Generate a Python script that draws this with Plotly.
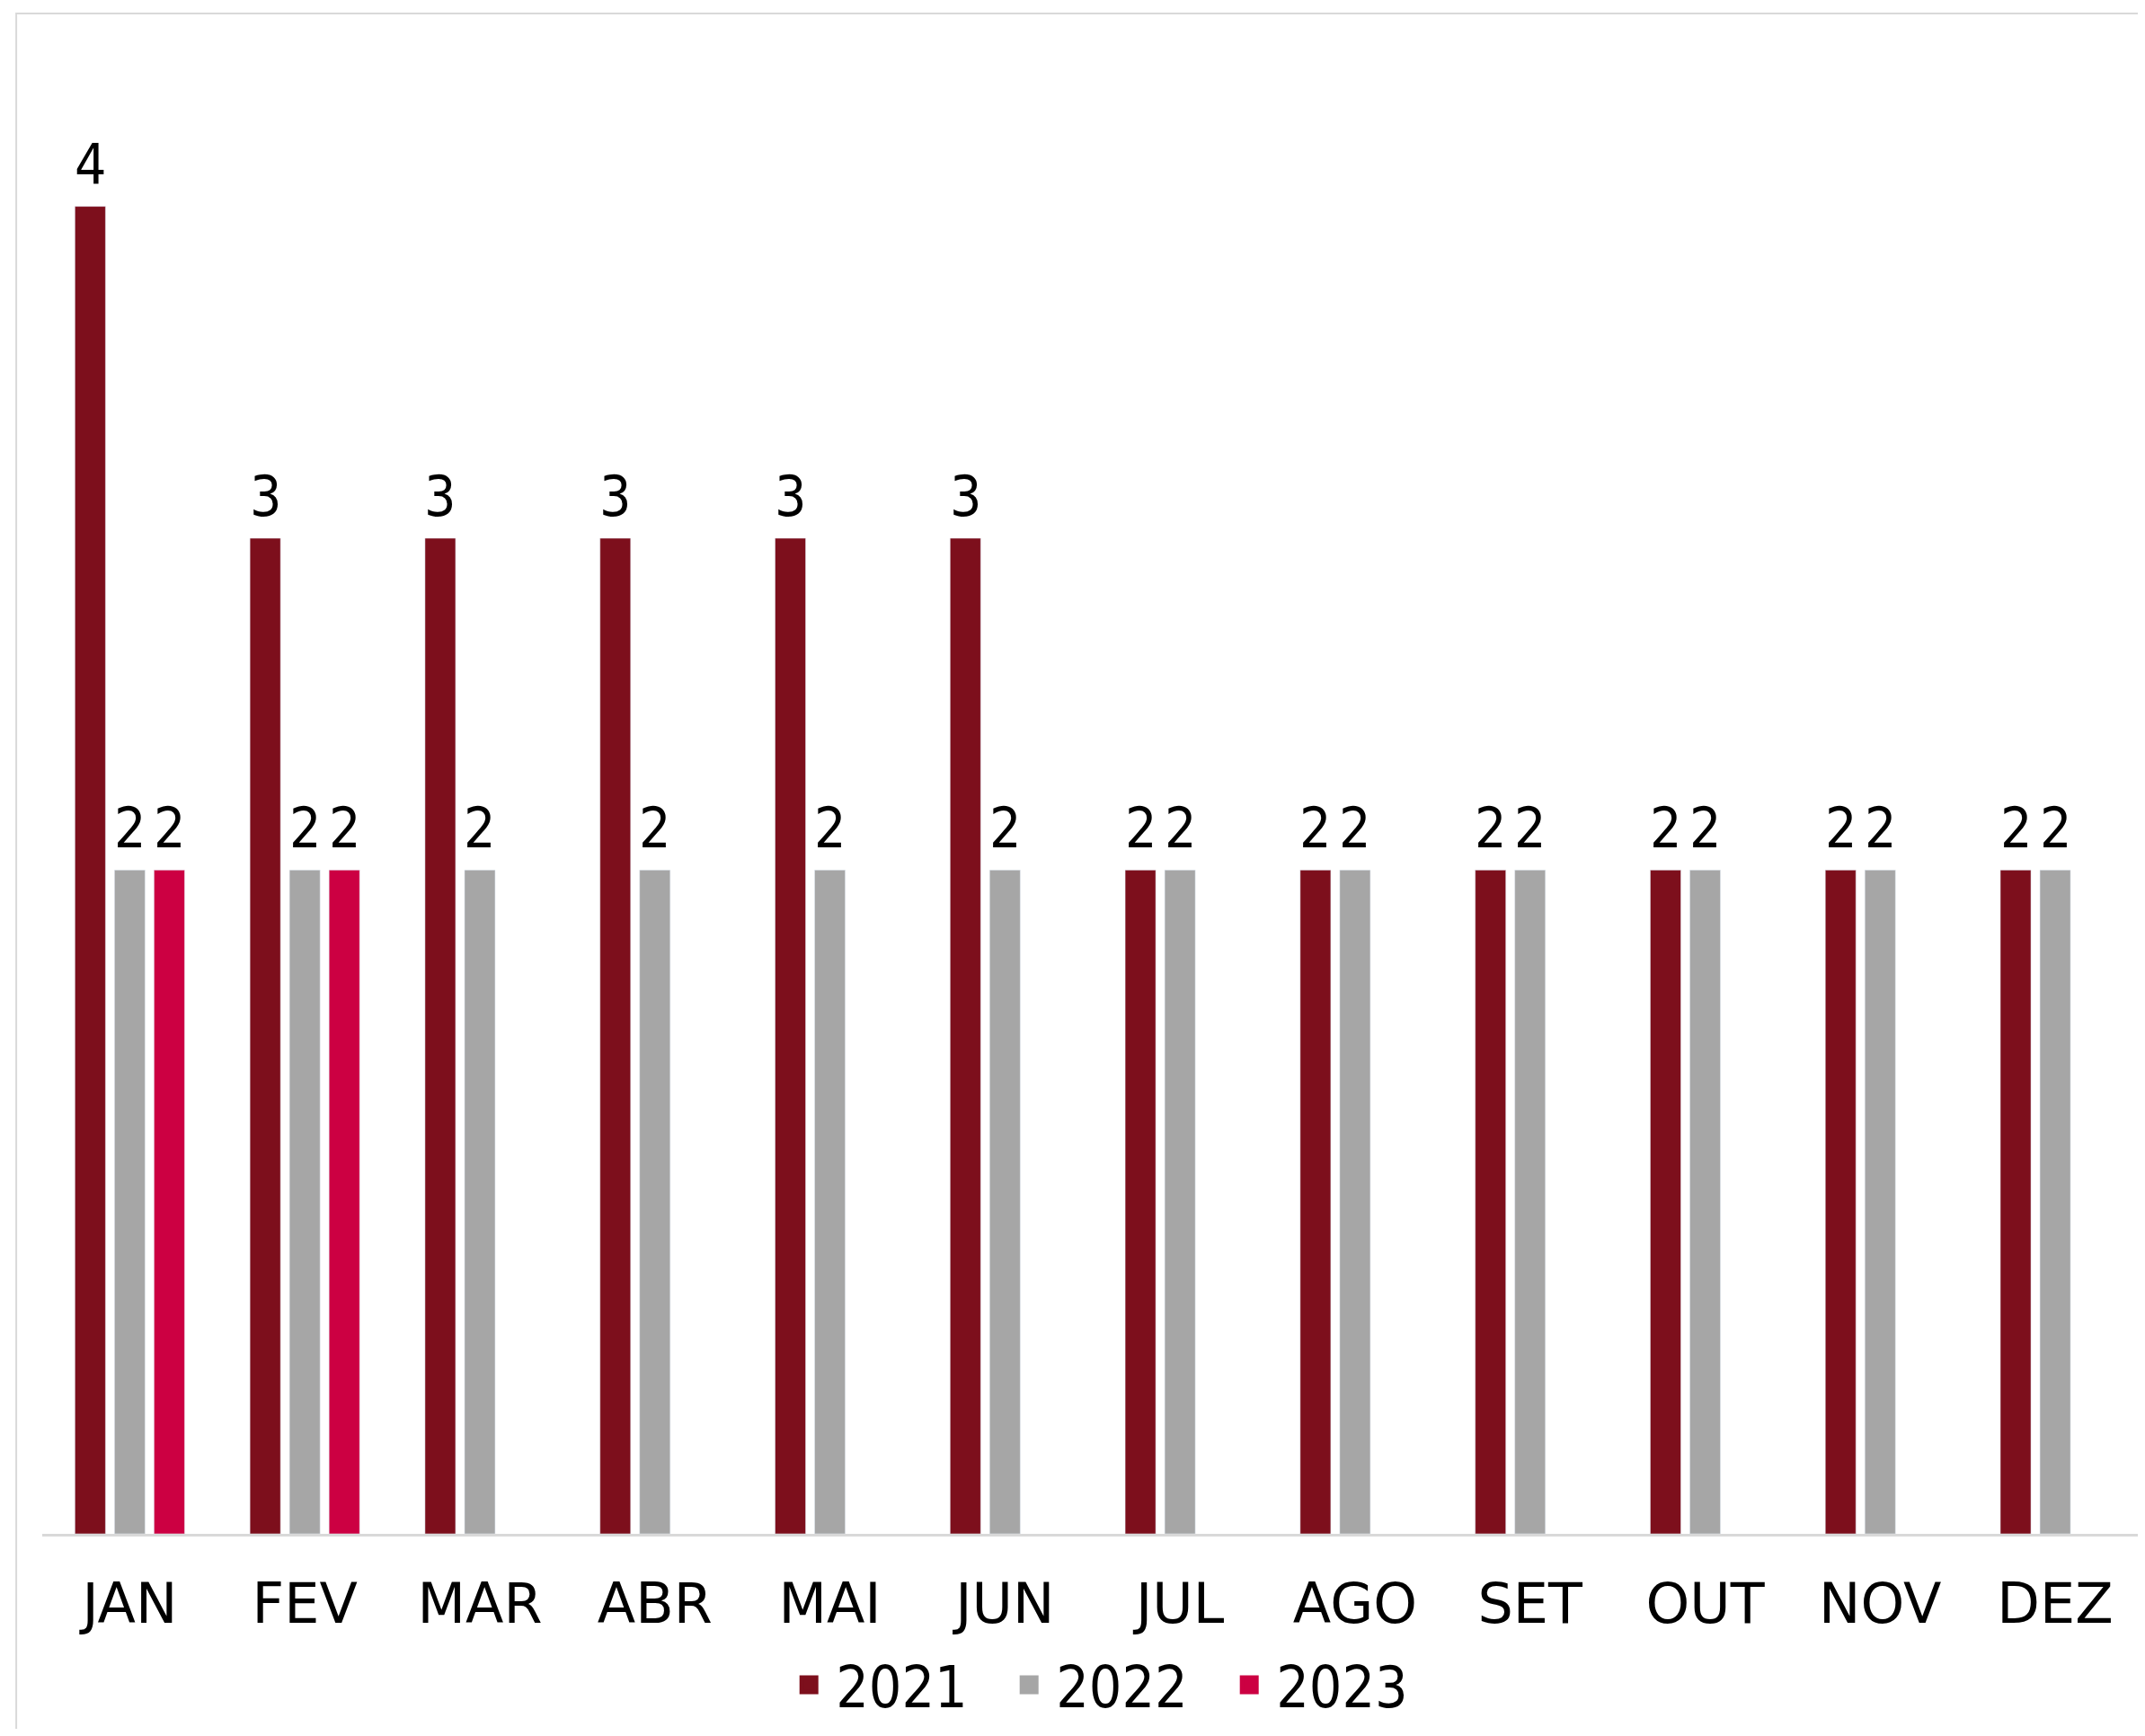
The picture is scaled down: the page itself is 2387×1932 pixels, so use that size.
"""Monthly counts by year - grouped bar chart"""

import plotly.graph_objects as go

months = ["JAN", "FEV", "MAR", "ABR", "MAI", "JUN", "JUL", "AGO", "SET", "OUT", "NOV", "DEZ"]
years = ["2021", "2022", "2023"]
values_2021 = [4, 3, 3, 3, 3, 3, 2, 2, 2, 2, 2, 2]
values_2022 = [2, 2, 2, 2, 2, 2, 2, 2, 2, 2, 2, 2]
values_2023 = [2, 2, None, None, None, None, None, None, None, None, None, None]

colors = ["#7D0F1C", "#A6A6A6", "#CC0042"]
NARROW = "DejaVu Sans Condensed, Liberation Sans Narrow, sans-serif"
WIDE = "DejaVu Sans, sans-serif"

# layout geometry (pixels)
W, H = 2371, 1916
M_L, M_R, M_T, M_B = 39, 0, 37, 212
X_RANGE = [-0.5, 11.472]
BARGAP, GROUPGAP = 0.322, 0.227

series = [values_2021, values_2022, values_2023]

fig = go.Figure()

for name, vals, color in zip(years, series, colors):
    fig.add_trace(go.Bar(x=months, y=vals, name=name, marker_color=color, showlegend=False))
    # legend entry with a bigger square symbol
    fig.add_trace(
        go.Scatter(
            x=[None],
            y=[None],
            mode="markers",
            name=name,
            marker=dict(symbol="square", size=16, color=color, line=dict(color=color, width=5)),
        )
    )

# value labels above each bar, shifted to the bar's slot in the group
cat_px = (W - M_L - M_R) / (X_RANGE[1] - X_RANGE[0])
slot_px = cat_px * (1 - BARGAP) / len(series)
for i, vals in enumerate(series):
    shift = (i - (len(series) - 1) / 2) * slot_px
    for m, v in zip(months, vals):
        if v is None:
            continue
        fig.add_annotation(
            x=m, y=v, text=str(v), showarrow=False,
            xanchor="center", yanchor="bottom", xshift=shift, yshift=8,
            font=dict(size=62, color="black", family=NARROW),
        )

# light border around the chart area (top and left visible)
fig.add_shape(
    type="rect", xref="paper", yref="paper",
    x0=-0.0124, x1=1.05, y0=-0.3, y1=1.018,
    line=dict(color="#D9D9D9", width=2), layer="below",
)

fig.update_layout(
    width=W,
    height=H,
    margin=dict(l=M_L, r=M_R, t=M_T, b=M_B),
    paper_bgcolor="white",
    plot_bgcolor="white",
    barmode="group",
    bargap=BARGAP,
    bargroupgap=GROUPGAP,
    font=dict(family=NARROW, size=62, color="black"),
    legend=dict(
        orientation="h",
        x=0.353,
        xanchor="left",
        y=-0.1014,
        yanchor="middle",
        font=dict(size=64, family=NARROW),
        itemsizing="trace",
        itemwidth=50,
        entrywidth=180,
    ),
)

fig.update_xaxes(
    range=X_RANGE,
    showline=True,
    linecolor="#D9D9D9",
    linewidth=3,
    ticks="",
    ticklabelstandoff=22,
    tickfont=dict(size=62, family=WIDE),
)
fig.update_yaxes(range=[0, 4.5], visible=False, showgrid=False)

fig.write_html("out.html")
